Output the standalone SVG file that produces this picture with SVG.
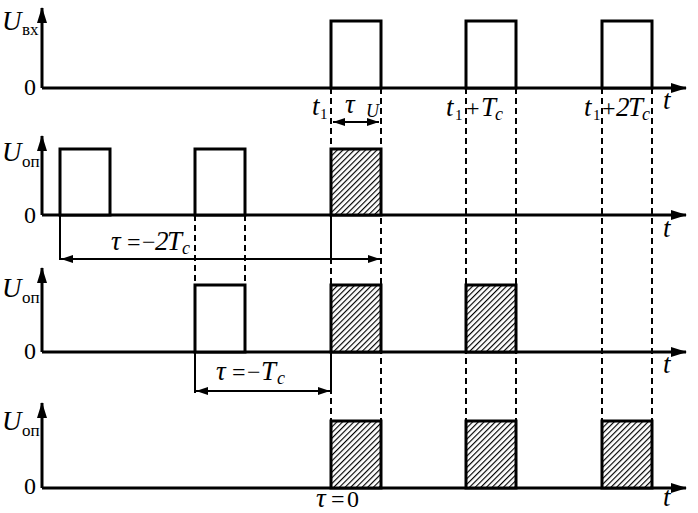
<svg xmlns="http://www.w3.org/2000/svg" width="698" height="513" viewBox="0 0 698 513">
<defs>
<pattern id="hatch" patternUnits="userSpaceOnUse" width="4" height="4" patternTransform="rotate(45)">
<rect width="4" height="4" fill="#fff"/>
<line x1="0.5" y1="0" x2="0.5" y2="4" stroke="#000" stroke-width="1.3"/>
</pattern>
<marker id="ah" viewBox="0 0 12 8" refX="12" refY="4" markerWidth="12" markerHeight="8" markerUnits="userSpaceOnUse" orient="auto-start-reverse">
<path d="M0,0 L12,4 L0,8 Z" fill="#000"/>
</marker>
<marker id="ax" viewBox="0 0 16 10" refX="15" refY="5" markerWidth="16" markerHeight="10" markerUnits="userSpaceOnUse" orient="auto">
<path d="M0,0 L16,5 L0,10 Z" fill="#000"/>
</marker>
</defs>
<style>
.axis{stroke:#000;stroke-width:3;fill:none}
.pulse{stroke:#000;stroke-width:3;fill:#fff}
.hp{stroke:#000;stroke-width:3;fill:url(#hatch)}
.dash{stroke:#000;stroke-width:2;stroke-dasharray:6,4;fill:none}
.dim{stroke:#000;stroke-width:2;fill:none}
text{font-family:"Liberation Serif","DejaVu Serif",serif;fill:#000}
.it{font-style:italic;font-size:27px}
.rm{font-size:24px}
.sub{font-size:17px}
.s1{font-size:15px}
.subi{font-style:italic;font-size:18px}
</style>
<rect width="698" height="513" fill="#fff"/>
<g id="connectors">
<path class="dash" d="M331,88 V421 M381,88 V421 M466,88 V421 M516,88 V421 M602,88 V421 M652,88 V421 M195,215 V285 M245,215 V285"/>
<path class="dim" d="M331,215 V259 M60,215 V260 M195,352 V393 M331,352 V393"/>
<line class="dim" x1="333" y1="122" x2="379" y2="122" marker-start="url(#ah)" marker-end="url(#ah)"/>
<line class="dim" x1="61" y1="259" x2="380" y2="259" marker-start="url(#ah)" marker-end="url(#ah)"/>
<line class="dim" x1="196" y1="391" x2="330" y2="391" marker-start="url(#ah)" marker-end="url(#ah)"/>
</g>
<g id="panel1">
<path class="axis" d="M42,88 V8" marker-end="url(#ax)"/>
<path class="axis" d="M42,88 H686" marker-end="url(#ax)"/>
<rect class="pulse" x="331" y="21" width="50" height="67"/>
<rect class="pulse" x="466" y="21" width="50" height="67"/>
<rect class="pulse" x="602" y="21" width="50" height="67"/>
<text class="it" x="2" y="30">U</text><text class="sub" x="22" y="35">вх</text>
<text class="rm" x="24" y="95">0</text>
<text class="it" x="663" y="109">t</text>
<text class="it" x="312" y="115">t</text><text class="s1" x="320" y="119">1</text>
<text class="it" x="345" y="113">τ</text><text class="subi" x="366" y="117">U</text>
<text class="it" x="446" y="116">t</text><text class="s1" x="455" y="120">1</text><text class="rm" x="466" y="116">+</text><text class="it" x="481" y="116">T</text><text class="subi" x="495" y="120">c</text>
<text class="it" x="584" y="116">t</text><text class="s1" x="593" y="120">1</text><text class="rm" x="602" y="116">+</text><text class="it" x="616" y="116">2</text><text class="it" x="628" y="116">T</text><text class="subi" x="642" y="120">c</text>
</g>
<g id="panel2">
<path class="axis" d="M42,215 V136" marker-end="url(#ax)"/>
<path class="axis" d="M42,215 H686" marker-end="url(#ax)"/>
<rect class="pulse" x="60" y="149" width="50" height="66"/>
<rect class="pulse" x="195" y="149" width="50" height="66"/>
<rect class="hp" x="331" y="149" width="50" height="66"/>
<text class="it" x="2" y="161">U</text><text class="sub" x="22" y="167">оп</text>
<text class="rm" x="24" y="223">0</text>
<text class="it" x="663" y="237">t</text>
<text class="it" x="111" y="250">τ</text><text class="rm" x="127" y="250">=</text><text class="rm" x="142" y="250">−</text><text class="it" x="155" y="250">2</text><text class="it" x="167" y="250">T</text><text class="subi" x="182" y="254">c</text>
</g>
<g id="panel3">
<path class="axis" d="M42,352 V268" marker-end="url(#ax)"/>
<path class="axis" d="M42,352 H686" marker-end="url(#ax)"/>
<rect class="pulse" x="195" y="285" width="50" height="67"/>
<rect class="hp" x="331" y="285" width="50" height="67"/>
<rect class="hp" x="466" y="285" width="50" height="67"/>
<text class="it" x="2" y="297">U</text><text class="sub" x="22" y="303">оп</text>
<text class="rm" x="24" y="359">0</text>
<text class="it" x="663" y="373">t</text>
<text class="it" x="216" y="380">τ</text><text class="rm" x="232" y="380">=</text><text class="rm" x="247" y="380">−</text><text class="it" x="261" y="380">T</text><text class="subi" x="277" y="384">c</text>
</g>
<g id="panel4">
<path class="axis" d="M42,488 V403" marker-end="url(#ax)"/>
<path class="axis" d="M42,488 H686" marker-end="url(#ax)"/>
<rect class="hp" x="331" y="421" width="50" height="67"/>
<rect class="hp" x="466" y="421" width="50" height="67"/>
<rect class="hp" x="602" y="421" width="50" height="67"/>
<text class="it" x="2" y="430">U</text><text class="sub" x="22" y="436">оп</text>
<text class="rm" x="24" y="494">0</text>
<text class="it" x="663" y="506">t</text>
<text class="it" x="316" y="507">τ</text><text class="rm" x="331" y="507">=</text><text class="rm" x="347" y="507">0</text>
</g>
</svg>
